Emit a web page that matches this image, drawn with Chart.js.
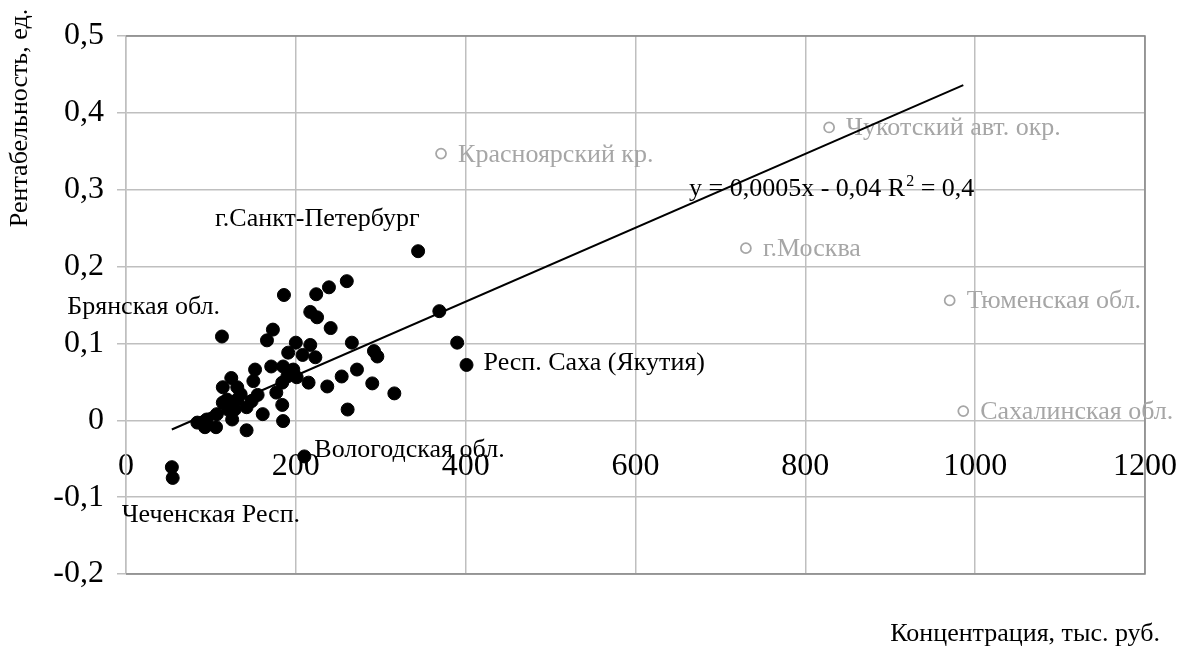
<!DOCTYPE html>
<html>
<head>
<meta charset="utf-8">
<script src="https://cdn.jsdelivr.net/npm/chart.js@4.4.1/dist/chart.umd.min.js"></script>
<style>
  html, body { margin: 0; padding: 0; background: #fff; }
  #wrap { width: 1179px; height: 648px; position: relative; }
</style>
</head>
<body>
<div id="wrap"><canvas id="myChart"></canvas></div>
<script>
// regions, unnamed (black dots)
const blackX = [369, 390, 260, 239, 224, 186, 217, 225, 241, 173, 166, 266, 292, 296, 200, 217, 191, 208, 223,
  272, 254, 290, 316, 261, 215, 237, 201, 197, 185, 171, 184, 177, 184, 185, 152, 150, 124, 114, 131, 161,
  142, 125, 148, 142, 131, 119, 120, 107, 95, 84, 93, 106, 190, 114, 135, 155, 128, 54];
const blackY = [0.142, 0.101, 0.181, 0.173, 0.164, 0.163, 0.141, 0.134, 0.120, 0.118, 0.104, 0.101, 0.090, 0.083, 0.101, 0.098, 0.088, 0.085, 0.082,
  0.066, 0.057, 0.048, 0.035, 0.014, 0.049, 0.044, 0.056, 0.066, 0.070, 0.070, 0.049, 0.036, 0.020, -0.001, 0.066, 0.051, 0.055, 0.043, 0.043, 0.008,
  -0.013, 0.001, 0.025, 0.017, 0.027, 0.027, 0.014, 0.008, 0.001, -0.003, -0.009, -0.009, 0.057, 0.023, 0.034, 0.033, 0.014, -0.061];

// regions with a caption (black dots)
const namedNames = ['г.Санкт-Петербург', 'Брянская обл.', 'Респ. Саха (Якутия)', 'Вологодская обл.', 'Чеченская Респ.'];
const namedX = [344, 113, 401, 210, 55];
const namedY = [0.220, 0.109, 0.072, -0.047, -0.075];

// outliers (grey rings)
const grayNames = ['Красноярский кр.', 'Чукотский авт. окр.', 'г.Москва', 'Тюменская обл.', 'Сахалинская обл.'];
const grayX = [371, 828, 730, 970, 986];
const grayY = [0.347, 0.381, 0.224, 0.156, 0.012];

// linear trend, ends
const trendX = [54, 986];
const trendY = [-0.012, 0.436];

const xTicks = [0, 200, 400, 600, 800, 1000, 1200];
const yTicks = [-0.2, -0.1, 0, 0.1, 0.2, 0.3, 0.4, 0.5];

const SERIF = '"Liberation Serif", "Times New Roman", serif';

// caption placement relative to its dot (px)
const namedOffsets = [
  { align: 'left', dx: -203, dy: -25 },
  { align: 'right', dx: -2, dy: -23 },
  { align: 'left', dx: 17, dy: 5 },
  { align: 'left', dx: 10, dy: 1 },
  { align: 'left', dx: -51, dy: 44 }
];

const toPts = (xs, ys) => xs.map((v, i) => ({ x: v, y: ys[i] }));

const extras = {
  id: 'extras',
  beforeDatasetsDraw(chart) {
    const { ctx, chartArea: a, scales: { x, y } } = chart;
    ctx.save();
    // frame on top, right and bottom
    ctx.strokeStyle = '#868686';
    ctx.lineWidth = 1.5;
    ctx.beginPath();
    ctx.moveTo(a.left, a.top);
    ctx.lineTo(a.right, a.top);
    ctx.lineTo(a.right, a.bottom);
    ctx.lineTo(a.left, a.bottom);
    ctx.stroke();

    ctx.font = '26px ' + SERIF;
    ctx.textBaseline = 'alphabetic';
    ctx.textAlign = 'left';
    ctx.fillStyle = '#a6a6a6';
    grayNames.forEach((n, i) => {
      ctx.fillText(n, x.getPixelForValue(grayX[i]) + 17, y.getPixelForValue(grayY[i]) + 8);
    });
    ctx.fillStyle = '#000';
    namedNames.forEach((n, i) => {
      const o = namedOffsets[i];
      ctx.textAlign = o.align;
      ctx.fillText(n, x.getPixelForValue(namedX[i]) + o.dx, y.getPixelForValue(namedY[i]) + o.dy);
    });
    ctx.restore();
  },
  afterDraw(chart) {
    const { ctx } = chart;
    ctx.save();
    ctx.fillStyle = '#000';
    ctx.textBaseline = 'alphabetic';
    ctx.textAlign = 'left';
    // trend equation
    let ex = 689;
    const ey = 196;
    ctx.font = '26px ' + SERIF;
    const p1 = 'y = 0,0005x - 0,04 R';
    ctx.fillText(p1, ex, ey);
    ex += ctx.measureText(p1).width;
    ctx.font = '16px ' + SERIF;
    ctx.fillText('2', ex + 1, ey - 10);
    ex += ctx.measureText('2').width + 1;
    ctx.font = '26px ' + SERIF;
    ctx.fillText(' = 0,4', ex, ey);

    // axis titles
    ctx.textAlign = 'right';
    ctx.fillText('Концентрация, тыс. руб.', 1160, 641);
    ctx.translate(27, 118);
    ctx.rotate(-Math.PI / 2);
    ctx.textAlign = 'center';
    ctx.fillText('Рентабельность, ед.', 0, 0);
    ctx.restore();
  }
};

const data = {
  datasets: [
    {
      type: 'line',
      label: 'trend',
      data: toPts(trendX, trendY),
      borderColor: '#000',
      borderWidth: 2,
      pointRadius: 0,
      fill: false
    },
    {
      label: 'regions',
      data: toPts(blackX, blackY).concat(toPts(namedX, namedY)),
      backgroundColor: '#000',
      borderColor: '#000',
      borderWidth: 1,
      pointRadius: 6.5
    },
    {
      label: 'outliers',
      data: toPts(grayX, grayY),
      backgroundColor: 'rgba(255,255,255,0)',
      borderColor: '#a6a6a6',
      borderWidth: 1.75,
      pointRadius: 5
    }
  ]
};

const config = {
  type: 'scatter',
  data: data,
  options: {
    responsive: true,
    maintainAspectRatio: false,
    animation: false,
    layout: {
      padding: { left: 0, right: 34, top: 36, bottom: 74 }
    },
    scales: {
      x: {
        type: 'linear',
        position: { y: 0 },
        min: 0,
        max: 1200,
        afterFit: (s) => { s.height = 0; s.paddingLeft = 0; s.paddingRight = 0; },
        afterBuildTicks: (s) => { s.ticks = xTicks.map(v => ({ value: v })); },
        grid: {
          color: '#bfbfbf',
          lineWidth: 1.5,
          drawTicks: false
        },
        border: { display: false },
        ticks: {
          color: '#000',
          padding: 27,
          maxRotation: 0,
          font: { family: SERIF, size: 32 },
          callback: (v) => String(v)
        }
      },
      y: {
        type: 'linear',
        min: -0.2,
        max: 0.5,
        afterFit: (s) => { s.width = 126; s.paddingTop = 0; s.paddingBottom = 0; },
        afterBuildTicks: (s) => { s.ticks = yTicks.map(v => ({ value: v })); },
        grid: {
          color: '#bfbfbf',
          lineWidth: 1.5,
          tickLength: 9
        },
        border: { color: '#bfbfbf', width: 1.5 },
        ticks: {
          color: '#000',
          padding: 13,
          font: { family: SERIF, size: 32 },
          callback: (v) => Math.abs(v) < 1e-9 ? '0' : v.toFixed(1).replace('.', ',')
        }
      }
    },
    plugins: {
      legend: { display: false },
      tooltip: { enabled: false }
    }
  },
  plugins: [extras]
};

var myChart = new Chart(
  document.getElementById('myChart'),
  config
);
</script>
</body>
</html>
